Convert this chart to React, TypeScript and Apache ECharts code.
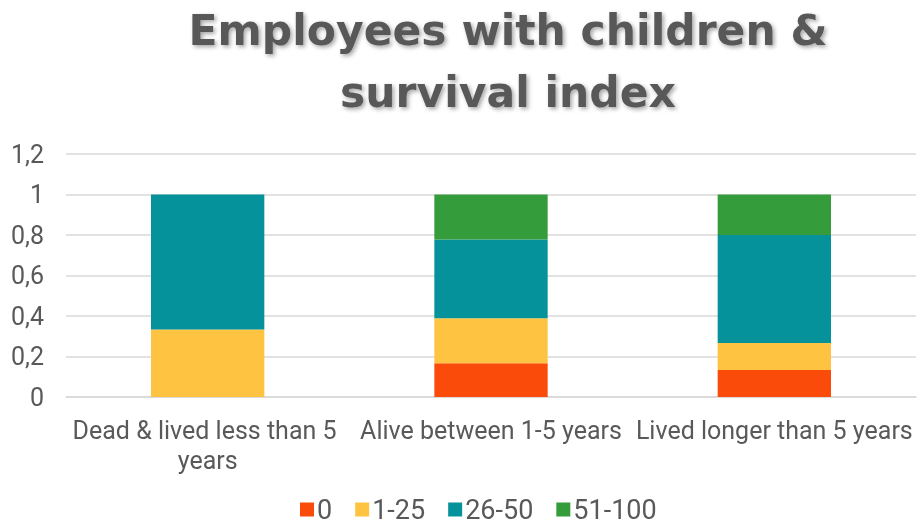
import React, { useEffect, useRef } from "react";
import * as echarts from "echarts";

const categories = ["Dead & lived less than 5 years", "Alive between 1-5 years", "Lived longer than 5 years"];
const seriesNames = ["0", "1-25", "26-50", "51-100"];
const values0 = [0, 0.1667, 0.1333];
const values1to25 = [0.3333, 0.2222, 0.1333];
const values26to50 = [0.6667, 0.3889, 0.5333];
const values51to100 = [0, 0.2222, 0.2];
const colors = ["#FA4B0B", "#FEC441", "#06929A", "#359C3B"];
const titleText = "Employees with children &\nsurvival index";

export default function App() {
  const ref = useRef<HTMLDivElement>(null);
  useEffect(() => {
    const chart = echarts.init(ref.current!, null, { renderer: "svg" });
    const data = [values0, values1to25, values26to50, values51to100];
    chart.setOption({
      animation: false,
      title: {
        text: titleText,
        left: 503,
        top: -6,
        textAlign: "center",
        textStyle: {
          fontFamily: "DejaVu Sans",
          fontWeight: "bold",
          fontSize: 42.5,
          lineHeight: 62,
          color: "#595959",
          textShadowColor: "rgba(0,0,0,0.35)",
          textShadowBlur: 4,
          textShadowOffsetX: 2,
          textShadowOffsetY: 2,
        },
      },
      grid: { left: 66, right: 0, top: 154, bottom: 129 },
      legend: {
        bottom: -2,
        left: 295,
        itemWidth: 14,
        itemHeight: 14,
        itemGap: 23,
        icon: "rect",
        textStyle: { fontFamily: "Roboto", fontSize: 27, color: "#595959", padding: [0, 0, 0, -2] },
        data: seriesNames,
      },
      xAxis: {
        type: "category",
        data: categories,
        axisTick: { show: false },
        axisLine: { lineStyle: { color: "#D9D9D9", width: 1.5 } },
        axisLabel: {
          fontFamily: "Roboto",
          fontSize: 25,
          color: "#595959",
          lineHeight: 30,
          margin: 18,
          width: 282,
          overflow: "break",
          interval: 0,
        },
      },
      yAxis: {
        type: "value",
        min: 0,
        max: 1.2,
        interval: 0.2,
        axisLine: { show: false },
        axisTick: { show: false },
        splitLine: { lineStyle: { color: "#D9D9D9", width: 1.5 } },
        axisLabel: {
          fontFamily: "Roboto",
          fontSize: 25,
          color: "#595959",
          margin: 22,
          formatter: (v: number) => String(+v.toFixed(1)).replace(".", ","),
        },
      },
      series: seriesNames.map((name, i) => ({
        name,
        type: "bar",
        stack: "total",
        barWidth: "40%",
        itemStyle: { color: colors[i] },
        data: data[i],
      })),
    });
    return () => chart.dispose();
  }, []);
  return <div ref={ref} style={{ position: "fixed", left: 0, top: 0, width: 918, height: 526 }} />;
}
